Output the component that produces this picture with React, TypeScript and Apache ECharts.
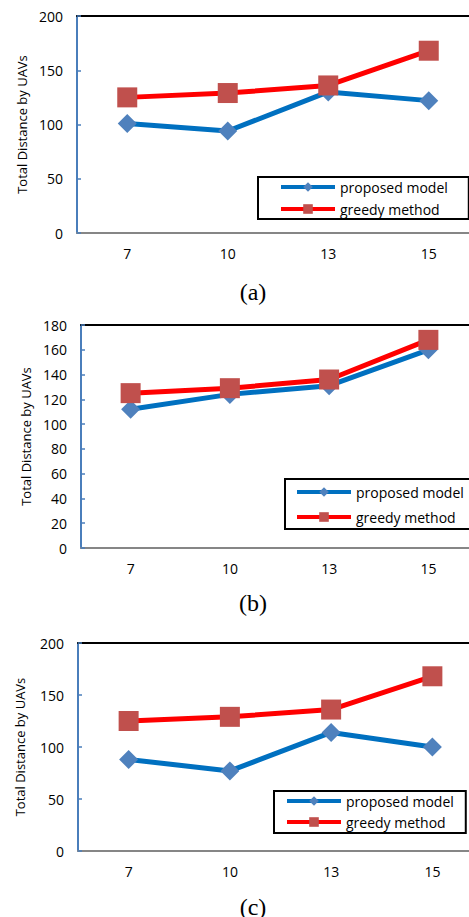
import React, { useEffect, useRef } from "react";
import * as echarts from "echarts";

const categories = ["7", "10", "13", "15"];
const proposedA = [101, 94, 130, 122];
const greedyA = [125, 129, 136, 168];
const proposedB = [112, 124, 131, 160];
const greedyB = [125, 129, 136, 168];
const proposedC = [88, 77, 114, 100];
const greedyC = [125, 129, 136, 168];
const yMax = [200, 180, 200];
const yInterval = [50, 20, 50];
const captions = ["(a)", "(b)", "(c)"];
const seriesNames = ["proposed model", "greedy method"];
const yName = "Total Distance by UAVs";

const FONT = "Open Sans";

export default function App() {
  const ref = useRef<HTMLDivElement>(null);
  useEffect(() => {
    if (!ref.current) return;
    const chart = echarts.init(ref.current, undefined, { renderer: "svg" });
    const grids = [
      { left: 77, top: 16, width: 402, height: 217 },
      { left: 81, top: 325, width: 397, height: 223 },
      { left: 78, top: 643, width: 405, height: 208 },
    ];
    const nameGaps = [49, 49, 52];
    const proposed = [proposedA, proposedB, proposedC];
    const greedy = [greedyA, greedyB, greedyC];
    const legends = [
      { left: 258, top: 177, padding: [3, 21, 3, 21], itemGap: 8 },
      { left: 285, top: 479, padding: [6, 20, 5, 10], itemGap: 11 },
      { left: 274, top: 791, padding: [3, 12, 4, 11], itemGap: 7 },
    ];
    const captionY = [292, 603, 907];

    const xAxis: any[] = [];
    const yAxis: any[] = [];
    const series: any[] = [];
    grids.forEach((g, i) => {
      xAxis.push({
        type: "category",
        gridIndex: i,
        data: categories,
        position: "bottom",
        axisLine: { lineStyle: { color: "#868686", width: 2 } },
        axisTick: { show: false },
        axisLabel: { color: "#000", fontSize: 14, fontFamily: FONT, margin: 13 },
      });
      xAxis.push({
        type: "category",
        gridIndex: i,
        data: categories,
        position: "top",
        axisLine: { lineStyle: { color: "#000", width: 2 } },
        axisTick: { show: false },
        axisLabel: { show: false },
      });
      yAxis.push({
        type: "value",
        gridIndex: i,
        min: 0,
        max: yMax[i],
        interval: yInterval[i],
        name: yName,
        nameLocation: "middle",
        nameGap: nameGaps[i],
        nameTextStyle: { color: "#000", fontSize: 13, fontFamily: FONT },
        axisLine: { show: true, lineStyle: { color: "#4a7ebb", width: 2 } },
        axisTick: { show: true, inside: true, length: 4, lineStyle: { color: "#4a7ebb", width: 1.5 } },
        splitLine: { show: false },
        axisLabel: { color: "#000", fontSize: 14, fontFamily: FONT, margin: 14 },
      });
      series.push({
        name: seriesNames[0],
        type: "line",
        xAxisIndex: i * 2,
        yAxisIndex: i,
        data: proposed[i],
        symbol: "diamond",
        symbolSize: 19,
        lineStyle: { color: "#0070c0", width: 5 },
        itemStyle: { color: "#4f81bd" },
        z: 2,
      });
      series.push({
        name: seriesNames[1],
        type: "line",
        xAxisIndex: i * 2,
        yAxisIndex: i,
        data: greedy[i],
        symbol: "rect",
        symbolSize: 20,
        lineStyle: { color: "#ff0000", width: 5 },
        itemStyle: { color: "#c0504d" },
        z: 3,
      });
    });

    const legend = legends.map((l) => ({
      data: seriesNames,
      orient: "vertical",
      left: l.left,
      top: l.top,
      padding: l.padding,
      itemGap: l.itemGap,
      itemWidth: 54,
      itemHeight: 12,
      borderColor: "#000",
      borderWidth: 2,
      backgroundColor: "#fff",
      lineStyle: { width: 4 },
      textStyle: { color: "#000", fontSize: 14, fontFamily: FONT },
    }));

    chart.setOption({
      animation: false,
      backgroundColor: "#fff",
      grid: grids.map((g) => ({ ...g, show: false })),
      xAxis,
      yAxis,
      series,
      legend,
      graphic: captions.map((c, i) => ({
        type: "text",
        x: 253,
        y: captionY[i],
        style: {
          text: c,
          fill: "#000",
          font: "24px 'Liberation Serif'",
          align: "center",
          verticalAlign: "middle",
        },
      })),
    });
    return () => chart.dispose();
  }, []);
  return (
    <div style={{ position: "fixed", left: 0, top: 0, width: 469, height: 917, overflow: "hidden", background: "#fff" }}>
      <div ref={ref} style={{ width: 495, height: 917 }} />
    </div>
  );
}
